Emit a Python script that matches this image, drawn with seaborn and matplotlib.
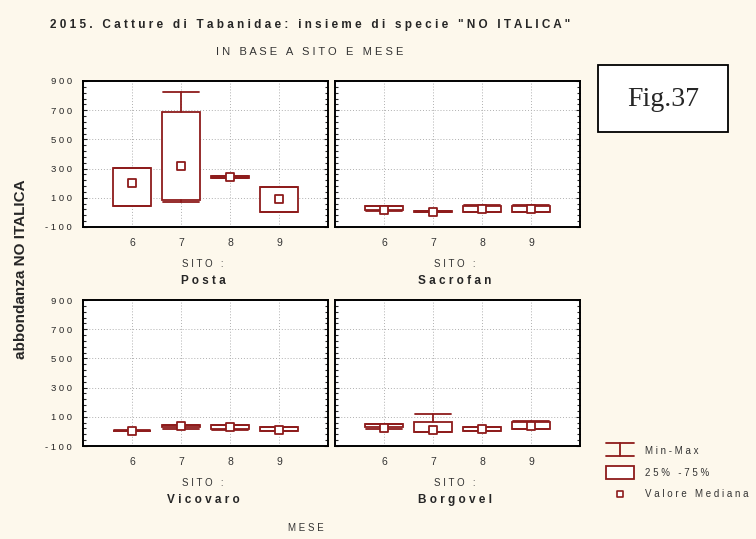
import numpy as np
import matplotlib.pyplot as plt
import seaborn as sns
import pandas as pd

# valori (abbondanza NO ITALICA per sito e mese)
months = [6, 7, 8, 9]
sites = ["Posta", "Sacrofan", "Vicovaro", "Borgovel"]
mins = [[45, 70, 235, 5], [10, 3, 0, 3], [3, 15, 12, 0], [18, -2, 5, 14]]
q1s = [[45, 85, 238, 5], [14, 5, 5, 5], [4, 28, 15, 2], [28, -2, 5, 14]]
medians = [[200, 320, 242, 92], [16, 5, 20, 25], [5, 37, 30, 10], [25, 10, 15, 40]]
q3s = [[302, 685, 248, 175], [42, 7, 42, 45], [6, 44, 42, 32], [49, 66, 28, 66]]
maxs = [[302, 825, 250, 175], [42, 8, 48, 50], [7, 46, 44, 33], [50, 121, 30, 68]]
yticks = [-100, 100, 300, 500, 700, 900]

BG = "#fdf8ec"
RED = "#8e1b1b"
NARROW = ["Liberation Sans Narrow", "Liberation Sans", "DejaVu Sans"]


def sp(s):
    # testo con spaziatura larga come nell'originale
    return " ".join(s)


def draw_panel(ax, i, show_y):
    stats = []
    for j, m in enumerate(months):
        stats.append({"med": medians[i][j], "q1": q1s[i][j], "q3": q3s[i][j],
                      "whislo": mins[i][j], "whishi": maxs[i][j], "fliers": []})
    ax.bxp(stats, positions=months, widths=0.78, capwidths=0.74, showfliers=False,
           patch_artist=True,
           boxprops=dict(facecolor="white", edgecolor=RED, linewidth=1.3),
           whiskerprops=dict(color=RED, linewidth=1.3),
           capprops=dict(color=RED, linewidth=1.3),
           medianprops=dict(linewidth=0), manage_ticks=False)
    df = pd.DataFrame({"mese": months, "mediana": medians[i]})
    sns.scatterplot(data=df, x="mese", y="mediana", marker="s", s=28,
                    facecolor="white", edgecolor=RED, linewidth=1.3, ax=ax, zorder=5)
    ax.set_xlim(5, 10)
    ax.set_ylim(-100, 900)
    ax.set_xticks(months)
    ax.set_xticklabels([str(m) for m in months], fontsize=7.5, family=NARROW, color="#333333")
    ax.set_yticks(yticks)
    ax.set_yticks(np.arange(-100, 901, 40), minor=True)
    if show_y:
        ax.set_yticklabels([sp(str(t)) for t in yticks], fontsize=6.8, family=NARROW)
    else:
        ax.set_yticklabels([])
    ax.tick_params(axis="y", which="both", direction="in", left=True, right=True,
                   length=3, width=0.8, pad=8)
    ax.tick_params(axis="y", which="minor", length=2)
    ax.tick_params(axis="x", direction="in", length=3, pad=8)
    ax.grid(True, which="major", linestyle=(0, (1, 2)), color="#b0b0b0", linewidth=0.7)
    ax.set_axisbelow(True)
    for s in ax.spines.values():
        s.set_color("black")
        s.set_linewidth(1.4)
    ax.set_xlabel("")
    ax.set_ylabel("")
    ax.text(0.49, -0.255, sp("SITO :"), transform=ax.transAxes, ha="center", va="center",
            fontsize=7, family=NARROW, color="#333333")
    ax.text(0.49, -0.37, sp(sites[i]), transform=ax.transAxes, ha="center", va="center",
            fontsize=8.5, fontweight="bold", family=NARROW)


def main():
    sns.set_style("white")
    fig = plt.figure(figsize=(7.56, 5.39), dpi=100, facecolor=BG)
    W, H = 756, 539
    boxes = [(83, 81), (335, 81), (83, 300), (335, 300)]
    for i, (x0, y0) in enumerate(boxes):
        ax = fig.add_axes([x0 / W, 1 - (y0 + 146) / H, 245 / W, 146 / H])
        ax.set_facecolor("white")
        draw_panel(ax, i, x0 == 83)

    fig.text(310 / W, 1 - 25 / H, sp("2015. Catture di Tabanidae: insieme di specie \"NO ITALICA\""),
             ha="center", va="center", fontsize=8.5, fontweight="bold", family=NARROW)
    fig.text(310 / W, 1 - 52 / H, sp("IN BASE A SITO E MESE"), ha="center", va="center",
             fontsize=8, family=NARROW, color="#333333")
    fig.text(306 / W, 1 - 528 / H, sp("MESE"), ha="center", va="center",
             fontsize=7, family=NARROW, color="#333333")
    fig.text(21 / W, 1 - 269 / H, "abbondanza NO ITALICA", rotation=90, ha="center",
             va="center", fontsize=11, fontweight="bold",
             family=["Liberation Sans", "DejaVu Sans"])

    # riquadro Fig.37
    fig.patches.append(plt.Rectangle((598 / W, 1 - 132 / H), 130 / W, 67 / H,
                                     transform=fig.transFigure, facecolor="white",
                                     edgecolor="black", linewidth=1.3))
    fig.text(663 / W, 1 - 99 / H, "Fig.37", ha="center", va="center", fontsize=20,
             family=["Liberation Serif", "DejaVu Serif"])

    # legenda
    lg = fig.add_axes([598 / W, 1 - 505 / H, 158 / W, 80 / H])
    lg.axis("off")
    lg.set_xlim(0, 158)
    lg.set_ylim(80, 0)
    lg.plot([8, 36], [18, 18], color=RED, lw=1.3)
    lg.plot([8, 36], [31, 31], color=RED, lw=1.3)
    lg.plot([22, 22], [18, 31], color=RED, lw=1.3)
    lg.add_patch(plt.Rectangle((8, 41), 28, 13, facecolor="white", edgecolor=RED, lw=1.3))
    lg.scatter([22], [69], marker="s", s=22, facecolor="white", edgecolors=RED, lw=1.2)
    for y, t in [(26, "Min-Max"), (48, "25% -75%"), (69, "Valore Mediana")]:
        lg.text(47, y, sp(t), va="center", fontsize=7, family=NARROW, color="#333333")

    fig.savefig("out.png", dpi=100, facecolor=BG)


if __name__ == "__main__":
    main()
